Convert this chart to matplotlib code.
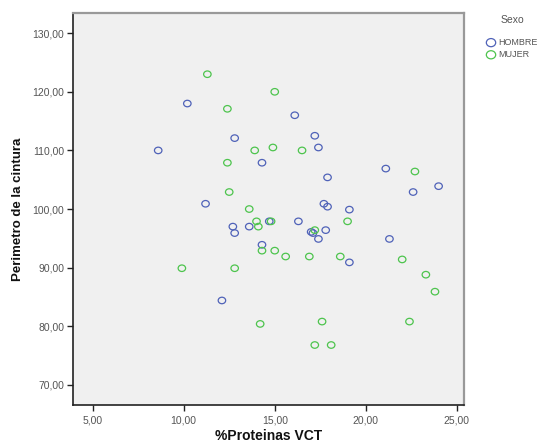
import matplotlib
matplotlib.use("Agg")
import matplotlib.pyplot as plt
from matplotlib.ticker import FuncFormatter
from matplotlib.path import Path
import numpy as np

plt.rcParams['font.family'] = ['Liberation Sans', 'DejaVu Sans']

# HOMBRE (blue)
hombre_x = [10.2, 12.8, 8.6, 16.1, 17.2, 17.4, 14.3, 11.2, 14.7, 12.7, 13.6, 12.8, 14.3,
            21.1, 17.9, 24.0, 22.6, 17.7, 17.9, 19.1, 16.3, 17.8, 17.1, 17.0, 17.4, 21.3,
            19.1, 12.1]
hombre_y = [118.0, 112.1, 110.0, 116.0, 112.5, 110.5, 107.9, 100.9, 97.9, 97.0, 97.0, 95.9, 93.9,
            106.9, 105.4, 103.9, 102.9, 100.9, 100.4, 99.9, 97.9, 96.4, 95.9, 96.1, 94.9, 94.9,
            90.9, 84.4]

# MUJER (green)
mujer_x = [11.3, 15.0, 12.4, 14.9, 16.5, 13.9, 12.4, 12.5, 13.6, 14.0, 14.1, 14.8, 14.3, 15.0,
           9.9, 12.8, 22.7, 19.0, 17.2, 15.6, 16.9, 18.6, 22.0, 23.3, 23.8, 14.2, 17.6,
           22.4, 17.2, 18.1]
mujer_y = [123.0, 120.0, 117.1, 110.5, 110.0, 110.0, 107.9, 102.9, 100.0, 97.9, 97.0, 97.9, 92.9, 92.9,
           89.9, 89.9, 106.4, 97.9, 96.4, 91.9, 91.9, 91.9, 91.4, 88.8, 85.9, 80.4, 80.8,
           80.8, 76.8, 76.8]

x_ticks = [5, 10, 15, 20, 25]
y_ticks = [70, 80, 90, 100, 110, 120, 130]

blue = '#4f62b8'
green = '#4dc44d'
gray_txt = '#555555'

circ = Path.unit_circle()
ellipse = Path(circ.vertices * np.array([1.15, 1.0]), circ.codes)

fig = plt.figure(figsize=(5.46, 4.45), dpi=100)
ax = fig.add_axes([0.133, 0.089, 0.717, 0.882])
ax.set_facecolor('#f0f0f0')

ax.scatter(hombre_x, hombre_y, s=29, marker=ellipse, facecolors='none', edgecolors=blue,
           linewidths=0.9, label='HOMBRE', zorder=3)
ax.scatter(mujer_x, mujer_y, s=29, marker=ellipse, facecolors='none', edgecolors=green,
           linewidths=0.9, label='MUJER', zorder=3)

ax.set_xlim(3.9, 25.4)
ax.set_ylim(66.5, 133.46)
ax.set_xticks(x_ticks)
ax.set_yticks(y_ticks)
fmt = FuncFormatter(lambda v, p: f"{v:.2f}".replace('.', ','))
ax.xaxis.set_major_formatter(fmt)
ax.yaxis.set_major_formatter(fmt)
ax.tick_params(axis='both', direction='out', length=4, width=1, color='#222222',
               labelsize=7.5, labelcolor=gray_txt, pad=2)
ax.tick_params(axis='x', pad=3)

for side in ['left', 'bottom']:
    ax.spines[side].set_color('#222222')
    ax.spines[side].set_linewidth(1.2)
for side in ['top', 'right']:
    ax.spines[side].set_color('#999999')
    ax.spines[side].set_linewidth(1.6)

ax.set_xlabel('%Proteinas VCT', fontsize=10, fontweight='bold', labelpad=3, color='#111111')
ax.set_ylabel('Perimetro de la cintura', fontsize=9.5, fontweight='bold', labelpad=6, color='#111111')

leg = fig.legend(loc='upper left', bbox_to_anchor=(486.5 / 546, 1 - 38.0 / 445), frameon=False,
                 fontsize=6.5, handletextpad=0.3, borderpad=0.0, borderaxespad=0.0,
                 labelspacing=0.35, handlelength=1.0, markerscale=1.25)
for t in leg.get_texts():
    t.set_color(gray_txt)
fig.text(512 / 546, 1 - 20 / 445, 'Sexo', ha='center', va='center', fontsize=7.5, color=gray_txt)

fig.savefig('out.png', dpi=100)
